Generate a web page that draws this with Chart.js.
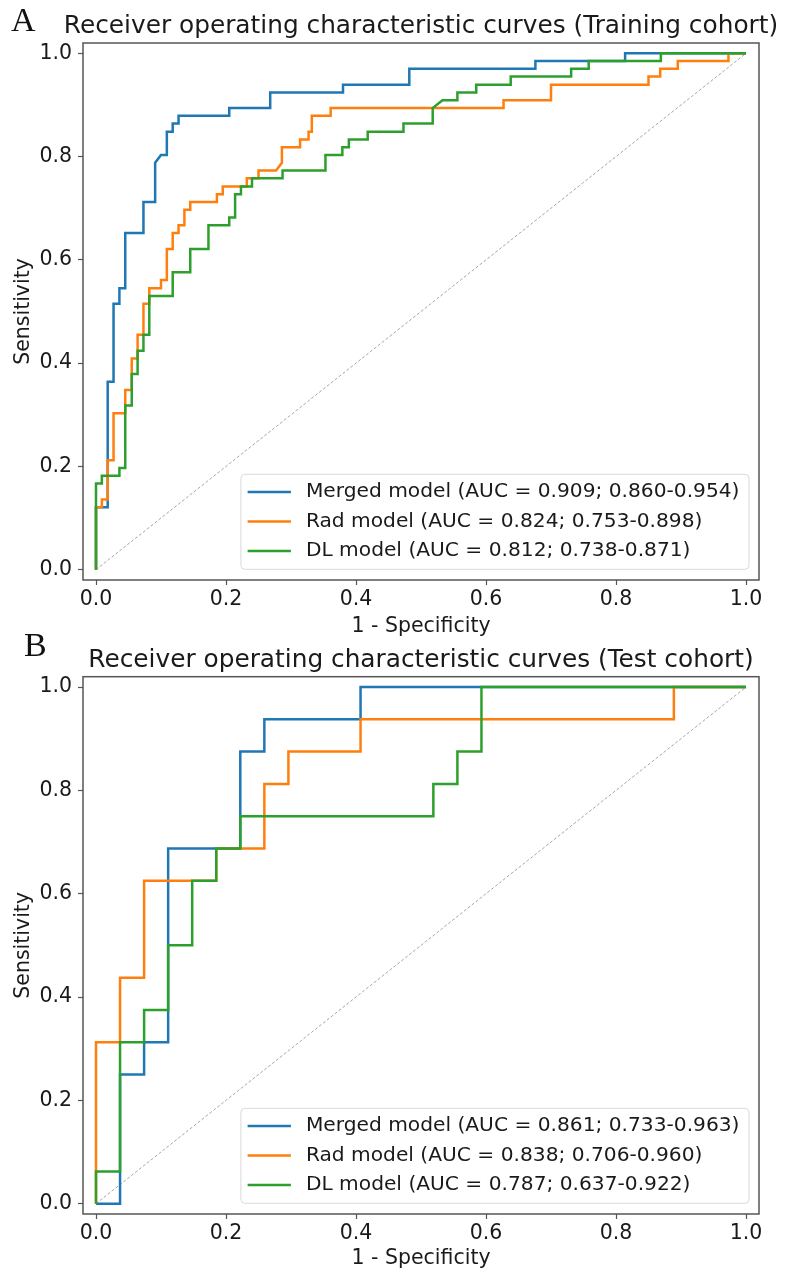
<!DOCTYPE html>
<html>
<head>
<meta charset="utf-8">
<title>ROC curves</title>
<script src="https://cdn.jsdelivr.net/npm/chart.js@4.4.1/dist/chart.umd.min.js"></script>
<style>
    html, body { margin: 0; padding: 0; background: #fff; }
    body { width: 792px; height: 1281px; position: relative; overflow: hidden; }
    canvas { position: absolute; left: 0; }
    #chartA { top: 0; }
    #chartB { top: 640px; }
    .panel-label {
        position: absolute;
        font-family: 'Liberation Serif', 'Times New Roman', serif;
        font-size: 34px;
        line-height: 34px;
        color: #111;
    }
</style>
</head>
<body>
<canvas id="chartA" width="792" height="640"></canvas>
<canvas id="chartB" width="792" height="641"></canvas>
<div class="panel-label" style="left:11px; top:3px;">A</div>
<div class="panel-label" style="left:24px; top:628px;">B</div>
<script>
// Data
const tickValues = [0.0, 0.2, 0.4, 0.6, 0.8, 1.0];
const modelNames = ['Merged model', 'Rad model', 'DL model'];
const trainAuc = ['AUC = 0.909; 0.860-0.954', 'AUC = 0.824; 0.753-0.898', 'AUC = 0.812; 0.738-0.871'];
const testAuc = ['AUC = 0.861; 0.733-0.963', 'AUC = 0.838; 0.706-0.960', 'AUC = 0.787; 0.637-0.922'];
const chanceFpr = [0, 1];
const chanceTpr = [0, 1];

// Training cohort
const trainMergedFpr = [0, 0, 0.018, 0.018, 0.027, 0.027, 0.036, 0.036, 0.045, 0.045, 0.073, 0.073, 0.091, 0.091, 0.1, 0.109, 0.109, 0.118, 0.118, 0.127, 0.127, 0.205, 0.205, 0.268, 0.268, 0.38, 0.38, 0.482, 0.482, 0.676, 0.676, 0.814, 0.814, 1.0];
const trainMergedTpr = [0, 0.121, 0.121, 0.364, 0.364, 0.515, 0.515, 0.545, 0.545, 0.652, 0.652, 0.712, 0.712, 0.788, 0.803, 0.803, 0.848, 0.848, 0.864, 0.864, 0.879, 0.879, 0.894, 0.894, 0.924, 0.924, 0.939, 0.939, 0.97, 0.97, 0.985, 0.985, 1.0, 1.0];

const trainRadFpr = [0, 0, 0.009, 0.009, 0.018, 0.018, 0.027, 0.027, 0.045, 0.045, 0.055, 0.055, 0.064, 0.064, 0.073, 0.073, 0.082, 0.082, 0.1, 0.1, 0.109, 0.109, 0.118, 0.118, 0.127, 0.127, 0.136, 0.136, 0.145, 0.145, 0.186, 0.186, 0.195, 0.195, 0.232, 0.232, 0.25, 0.25, 0.277, 0.286, 0.286, 0.314, 0.314, 0.327, 0.327, 0.332, 0.332, 0.361, 0.361, 0.627, 0.627, 0.7, 0.7, 0.85, 0.85, 0.868, 0.868, 0.895, 0.895, 0.973, 0.973, 1.0];
const trainRadTpr = [0, 0.121, 0.121, 0.136, 0.136, 0.212, 0.212, 0.303, 0.303, 0.348, 0.348, 0.409, 0.409, 0.455, 0.455, 0.515, 0.515, 0.545, 0.545, 0.561, 0.561, 0.621, 0.621, 0.652, 0.652, 0.667, 0.667, 0.697, 0.697, 0.712, 0.712, 0.727, 0.727, 0.742, 0.742, 0.758, 0.758, 0.773, 0.773, 0.788, 0.818, 0.818, 0.833, 0.833, 0.848, 0.848, 0.879, 0.879, 0.894, 0.894, 0.909, 0.909, 0.939, 0.939, 0.955, 0.955, 0.97, 0.97, 0.985, 0.985, 1.0, 1.0];

const trainDlFpr = [0, 0, 0.009, 0.009, 0.036, 0.036, 0.045, 0.045, 0.055, 0.055, 0.064, 0.064, 0.073, 0.073, 0.082, 0.082, 0.118, 0.118, 0.145, 0.145, 0.173, 0.173, 0.205, 0.205, 0.214, 0.214, 0.223, 0.223, 0.24, 0.24, 0.287, 0.287, 0.353, 0.353, 0.379, 0.379, 0.389, 0.389, 0.418, 0.418, 0.473, 0.473, 0.518, 0.518, 0.533, 0.556, 0.556, 0.585, 0.585, 0.638, 0.638, 0.731, 0.731, 0.758, 0.758, 0.869, 0.869, 1.0];
const trainDlTpr = [0, 0.167, 0.167, 0.182, 0.182, 0.197, 0.197, 0.318, 0.318, 0.379, 0.379, 0.424, 0.424, 0.455, 0.455, 0.53, 0.53, 0.576, 0.576, 0.621, 0.621, 0.667, 0.667, 0.682, 0.682, 0.727, 0.727, 0.742, 0.742, 0.758, 0.758, 0.773, 0.773, 0.803, 0.803, 0.818, 0.818, 0.833, 0.833, 0.848, 0.848, 0.864, 0.864, 0.894, 0.909, 0.909, 0.924, 0.924, 0.939, 0.939, 0.955, 0.955, 0.97, 0.97, 0.985, 0.985, 1.0, 1.0];

// Test cohort
const testMergedFpr = [0, 0.037, 0.037, 0.074, 0.074, 0.111, 0.111, 0.222, 0.222, 0.259, 0.259, 0.407, 0.407, 1.0];
const testMergedTpr = [0, 0, 0.25, 0.25, 0.3125, 0.3125, 0.6875, 0.6875, 0.875, 0.875, 0.9375, 0.9375, 1.0, 1.0];

const testRadFpr = [0, 0, 0.037, 0.037, 0.074, 0.074, 0.185, 0.185, 0.259, 0.259, 0.296, 0.296, 0.407, 0.407, 0.889, 0.889, 1.0];
const testRadTpr = [0, 0.3125, 0.3125, 0.4375, 0.4375, 0.625, 0.625, 0.6875, 0.6875, 0.8125, 0.8125, 0.875, 0.875, 0.9375, 0.9375, 1.0, 1.0];

const testDlFpr = [0, 0, 0.037, 0.037, 0.074, 0.074, 0.111, 0.111, 0.148, 0.148, 0.185, 0.185, 0.222, 0.222, 0.519, 0.519, 0.556, 0.556, 0.593, 0.593, 1.0];
const testDlTpr = [0, 0.0625, 0.0625, 0.3125, 0.3125, 0.375, 0.375, 0.5, 0.5, 0.625, 0.625, 0.6875, 0.6875, 0.75, 0.75, 0.8125, 0.8125, 0.875, 0.875, 1.0, 1.0];

// Styling
const lineColors = ['#1f77b4', '#ff7f0e', '#2ca02c'];
const fontFamily = '"DejaVu Sans", Verdana, sans-serif';
const textColor = '#1a1a1a';
const spineColor = '#555';

function toPoints(xs, ys) {
    return xs.map((x, i) => ({ x: x, y: ys[i] }));
}

function buildDatasets(fprs, tprs, aucs) {
    const sets = fprs.map((fpr, i) => ({
        label: modelNames[i] + ' (' + aucs[i] + ')',
        data: toPoints(fpr, tprs[i]),
        showLine: true,
        borderColor: lineColors[i],
        backgroundColor: lineColors[i],
        borderWidth: 2.5,
        pointRadius: 0,
        tension: 0,
        fill: false,
        order: 3 - i
    }));
    sets.push({
        label: 'chance',
        isChance: true,
        data: toPoints(chanceFpr, chanceTpr),
        showLine: true,
        borderColor: '#a6a6a6',
        borderWidth: 1,
        borderDash: [3, 2],
        pointRadius: 0,
        fill: false,
        order: 4
    });
    return sets;
}

// Title over the plot, frame round it and legend box in the lower right
const frameAndLegend = {
    id: 'frameAndLegend',
    afterDraw(chart, args, opts) {
        const ctx = chart.ctx;
        const area = chart.chartArea;
        ctx.save();

        ctx.fillStyle = textColor;
        ctx.font = '24.8px ' + fontFamily;
        ctx.textAlign = 'center';
        ctx.textBaseline = 'alphabetic';
        ctx.fillText(opts.title, (area.left + area.right) / 2, opts.titleBaseline);

        ctx.strokeStyle = spineColor;
        ctx.lineWidth = 1.5;
        ctx.strokeRect(area.left, area.top, area.right - area.left, area.bottom - area.top);

        const items = chart.data.datasets.filter(d => !d.isChance);
        ctx.font = '20.2px ' + fontFamily;
        let maxW = 0;
        items.forEach(d => { maxW = Math.max(maxW, ctx.measureText(d.label).width); });
        const boxW = 65 + maxW + 9.5;
        const boxH = 95;
        const boxL = area.right - 10 - boxW;
        const boxT = area.bottom - 10.7 - boxH;

        ctx.beginPath();
        ctx.roundRect(boxL, boxT, boxW, boxH, 4);
        ctx.fillStyle = 'rgba(255,255,255,0.85)';
        ctx.fill();
        ctx.strokeStyle = '#d9d9d9';
        ctx.lineWidth = 1;
        ctx.stroke();

        items.forEach((d, i) => {
            const y = boxT + 17.7 + i * 29.5;
            ctx.strokeStyle = d.borderColor;
            ctx.lineWidth = 2.5;
            ctx.beginPath();
            ctx.moveTo(boxL + 6.7, y);
            ctx.lineTo(boxL + 50, y);
            ctx.stroke();
            ctx.fillStyle = textColor;
            ctx.textBaseline = 'middle';
            ctx.textAlign = 'left';
            ctx.fillText(d.label, boxL + 65, y);
        });
        ctx.restore();
    }
};

function axisOptions(titleText, isX, axisSize, titlePadding) {
    return {
        type: 'linear',
        min: -0.02,
        max: 1.02,
        afterBuildTicks: scale => {
            scale.ticks = tickValues.map(v => ({ value: v }));
        },
        afterFit: scale => {
            if (isX) {
                scale.height = axisSize;
            } else {
                scale.width = axisSize;
            }
        },
        grid: {
            display: true,
            drawOnChartArea: false,
            drawTicks: true,
            tickLength: 5,
            tickColor: spineColor,
            tickWidth: 1.2
        },
        border: { display: false },
        ticks: {
            padding: isX ? 2 : 6,
            color: textColor,
            autoSkip: false,
            maxRotation: 0,
            font: { family: fontFamily, size: 20.5 },
            callback: function(value) {
                return value.toFixed(1);
            }
        },
        title: {
            display: true,
            text: titleText,
            color: textColor,
            font: { family: fontFamily, size: 20.5 },
            padding: titlePadding
        }
    };
}

function makeRocChart(canvasId, titleText, datasets, topPad, titleBaseline, xAxisHeight, xTitlePad) {
    return new Chart(document.getElementById(canvasId), {
        type: 'scatter',
        data: { datasets: datasets },
        options: {
            responsive: false,
            animation: false,
            layout: { padding: { left: 0, right: 33, top: topPad, bottom: 0 } },
            scales: {
                x: axisOptions('1 - Specificity', true, xAxisHeight, xTitlePad),
                y: axisOptions('Sensitivity', false, 83, { top: 11, bottom: 0 })
            },
            plugins: {
                legend: { display: false },
                tooltip: { enabled: false },
                title: { display: false },
                frameAndLegend: { title: titleText, titleBaseline: titleBaseline }
            }
        },
        plugins: [frameAndLegend]
    });
}

// Training Cohort Chart
makeRocChart(
    'chartA',
    'Receiver operating characteristic curves (Training cohort)',
    buildDatasets([trainMergedFpr, trainRadFpr, trainDlFpr], [trainMergedTpr, trainRadTpr, trainDlTpr], trainAuc),
    43,
    33.3,
    60,
    { top: 0, bottom: 1 }
);

// Test Cohort Chart
makeRocChart(
    'chartB',
    'Receiver operating characteristic curves (Test cohort)',
    buildDatasets([testMergedFpr, testRadFpr, testDlFpr], [testMergedTpr, testRadTpr, testDlTpr], testAuc),
    36.7,
    26.7,
    67,
    { top: 0, bottom: 9.7 }
);
</script>
</body>
</html>
